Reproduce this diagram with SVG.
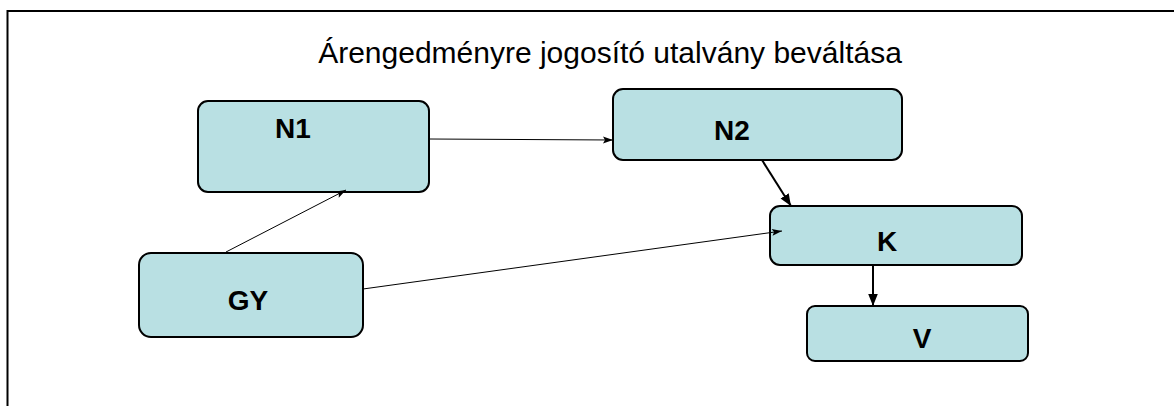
<svg xmlns="http://www.w3.org/2000/svg" width="1174" height="406" viewBox="0 0 1174 406">
  <defs>
    <style>
      .box { fill: #b9e0e3; stroke: #000; stroke-width: 2; }
      .lbl { font-family: "Liberation Sans", Arial, sans-serif; font-weight: bold; font-size: 28px; fill: #000; text-anchor: middle; }
      .title { font-family: "Liberation Sans", Arial, sans-serif; font-size: 30px; fill: #000; text-anchor: middle; }
      .thin { stroke: #000; stroke-width: 1; fill: none; }
      .thick { stroke: #000; stroke-width: 2; fill: none; }
    </style>
    <marker id="arr" viewBox="0 0 10 10" refX="10" refY="5" markerWidth="14" markerHeight="10" markerUnits="userSpaceOnUse" orient="auto">
      <path d="M0,1.5 L10,5 L0,8.5 L2,5 Z" fill="#000"/>
    </marker>
    <marker id="arrB" viewBox="0 0 10 10" refX="10" refY="5" markerWidth="12" markerHeight="12" markerUnits="userSpaceOnUse" orient="auto">
      <path d="M0,1 L10,5 L0,9 Z" fill="#000"/>
    </marker>
  </defs>

  <!-- outer frame -->
  <path d="M7.5,1000 L7.5,11 L1200,11" fill="none" stroke="#000" stroke-width="2"/>

  <text class="title" x="610" y="63">Árengedményre jogosító utalvány beváltása</text>

  <g id="N1">
    <rect class="box" x="198" y="101" width="231" height="91" rx="10"/>
    <text class="lbl" x="293" y="138">N1</text>
  </g>
  <g id="N2">
    <rect class="box" x="613" y="89" width="289" height="71" rx="10"/>
    <text class="lbl" x="732" y="140">N2</text>
  </g>
  <g id="K">
    <rect class="box" x="770" y="206" width="252" height="59" rx="10"/>
    <text class="lbl" x="887" y="251">K</text>
  </g>
  <g id="V">
    <rect class="box" x="807" y="306" width="221" height="55" rx="8"/>
    <text class="lbl" x="922" y="348">V</text>
  </g>
  <g id="GY">
    <rect class="box" x="139" y="253" width="224" height="84" rx="12"/>
    <text class="lbl" x="248" y="310">GY</text>
  </g>

  <!-- connectors drawn over the boxes so arrow tips stay visible -->
  <g id="connectors">
    <line class="thin" x1="429" y1="139" x2="613" y2="140" marker-end="url(#arr)"/>
    <line class="thin" x1="226" y1="252" x2="346" y2="190" marker-end="url(#arr)"/>
    <line class="thin" x1="363" y1="289" x2="782" y2="231" marker-end="url(#arr)"/>
    <line class="thick" x1="762" y1="160" x2="791" y2="206" marker-end="url(#arrB)"/>
    <line class="thick" x1="873" y1="265" x2="873" y2="306" marker-end="url(#arrB)"/>
  </g>
</svg>
